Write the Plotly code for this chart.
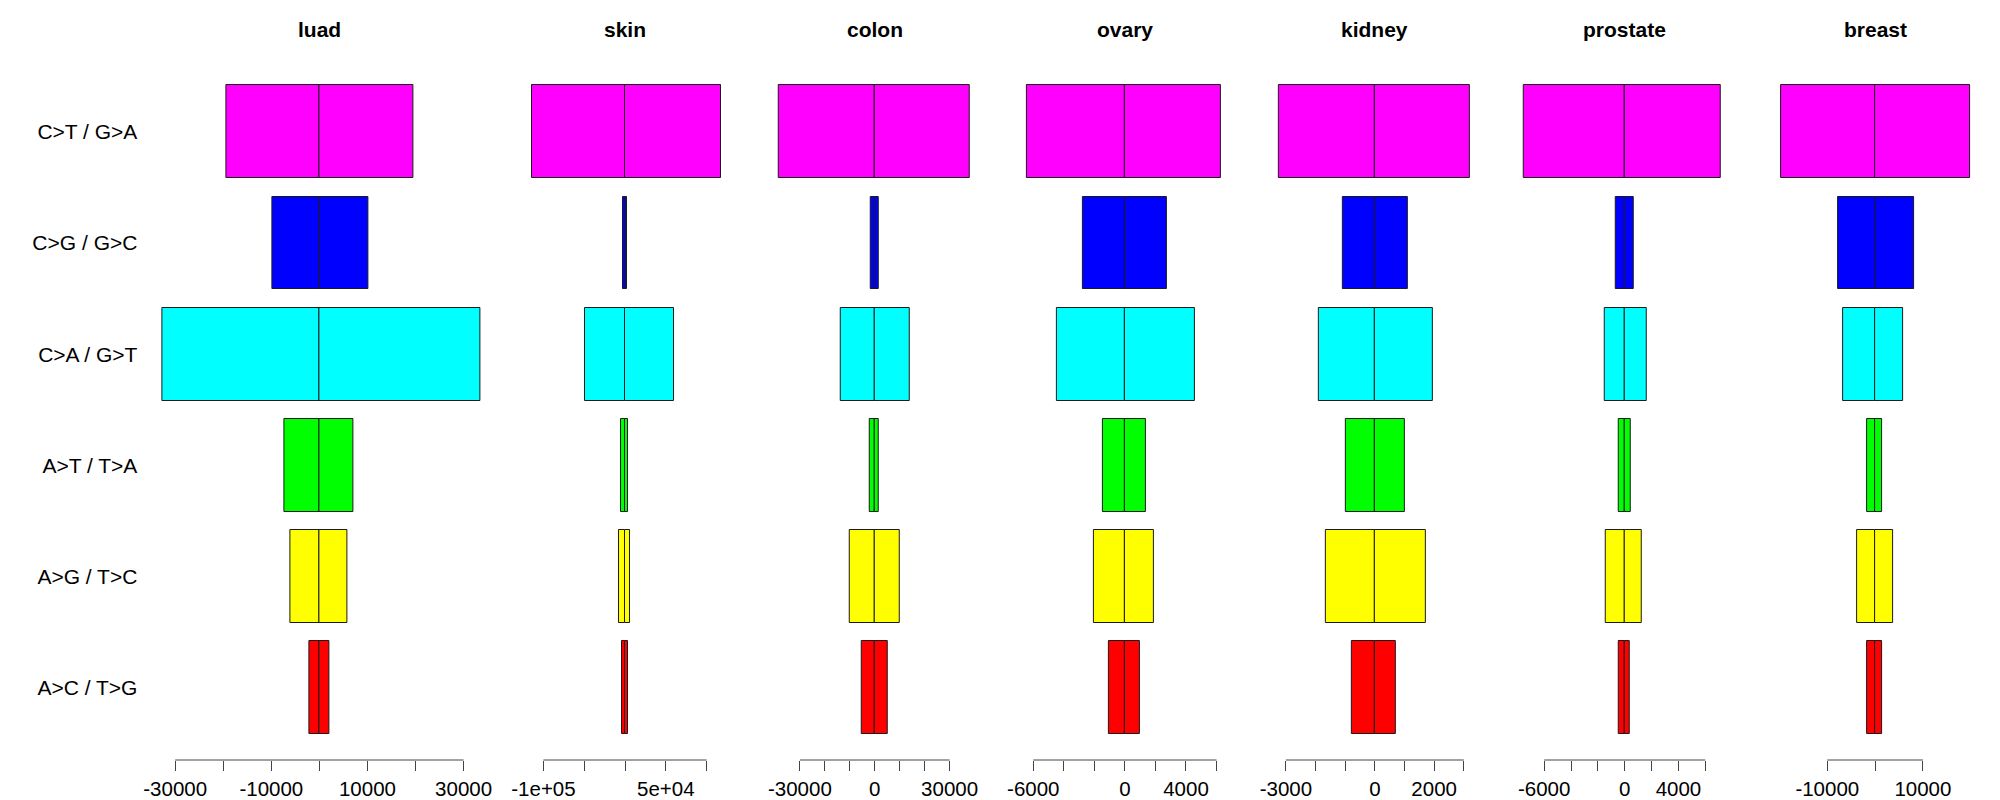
import plotly.graph_objects as go

# ---------------- data ----------------
cancers = ["luad", "skin", "colon", "ovary", "kidney", "prostate", "breast"]
mutation_types = ["C>T / G>A", "C>G / G>C", "C>A / G>T", "A>T / T>A", "A>G / T>C", "A>C / T>G"]
bar_colors = ["#FF00FF", "#0000FF", "#00FFFF", "#00FF00", "#FFFF00", "#FF0000"]

# left half of each bar (plotted as negative) and right half (positive)
luad_left = [19400, 9850, 32670, 7300, 6110, 2150]
luad_right = [19570, 10160, 33430, 7070, 5830, 1990]
skin_left = [114400, 2450, 48600, 4900, 6950, 3270]
skin_right = [117300, 2450, 59700, 4100, 6540, 3270]
colon_left = [38340, 1600, 13490, 2140, 10150, 5210]
colon_right = [38210, 1600, 14030, 1740, 10150, 5080]
ovary_left = [6397, 2751, 4432, 1419, 2009, 1026]
ovary_right = [6266, 2729, 4585, 1354, 1877, 982]
kidney_left = [3226, 1090, 1888, 967, 1652, 764]
kidney_right = [3215, 1113, 1945, 1023, 1709, 708]
prostate_left = [7499, 646, 1515, 472, 1390, 472]
prostate_right = [7126, 646, 1614, 422, 1291, 397]
breast_left = [19664, 7810, 6624, 1673, 3835, 1604]
breast_right = [19943, 8228, 5857, 1534, 3765, 1395]

lefts = [luad_left, skin_left, colon_left, ovary_left, kidney_left, prostate_left, breast_left]
rights = [luad_right, skin_right, colon_right, ovary_right, kidney_right, prostate_right, breast_right]

# x-axis ticks and labels (R drops overlapping labels)
luad_ticks = [-30000, -20000, -10000, 0, 10000, 20000, 30000]
luad_tick_labels = ["-30000", "", "-10000", "", "10000", "", "30000"]
skin_ticks = [-100000, -50000, 0, 50000, 100000]
skin_tick_labels = ["-1e+05", "", "", "5e+04", ""]
colon_ticks = [-30000, -20000, -10000, 0, 10000, 20000, 30000]
colon_tick_labels = ["-30000", "", "", "0", "", "", "30000"]
ovary_ticks = [-6000, -4000, -2000, 0, 2000, 4000, 6000]
ovary_tick_labels = ["-6000", "", "", "0", "", "4000", ""]
kidney_ticks = [-3000, -2000, -1000, 0, 1000, 2000, 3000]
kidney_tick_labels = ["-3000", "", "", "0", "", "2000", ""]
prostate_ticks = [-6000, -4000, -2000, 0, 2000, 4000, 6000]
prostate_tick_labels = ["-6000", "", "", "0", "", "4000", ""]
breast_ticks = [-10000, 0, 10000]
breast_tick_labels = ["-10000", "", "10000"]

all_ticks = [luad_ticks, skin_ticks, colon_ticks, ovary_ticks, kidney_ticks, prostate_ticks, breast_ticks]
all_tick_labels = [luad_tick_labels, skin_tick_labels, colon_tick_labels, ovary_tick_labels,
                   kidney_tick_labels, prostate_tick_labels, breast_tick_labels]

# ---------------- layout constants ----------------
W, H = 2000, 800
panel_center_px = [319.4, 625.0, 874.75, 1124.9, 1374.85, 1624.75, 1875.1]
panel_half_px = [175, 105, 105, 105, 105, 105, 105]
axis_half_range = [36408, 128755, 42084, 6877.5, 3541.3, 7821.2, 21966.5]
axis_line_px = 760          # distance from top of the x axis line
y_top_val = -1.1853          # row coordinate at the top edge
y_bottom_val = 5.6493        # row coordinate at the axis line

FONT = "Liberation Sans, Arial, Helvetica, sans-serif"
row_pos = list(range(len(mutation_types)))

fig = go.Figure()
for i, name in enumerate(cancers):
    xa = "x" if i == 0 else f"x{i+1}"
    fig.add_trace(go.Bar(
        y=row_pos, x=[-v for v in lefts[i]], orientation="h", xaxis=xa, yaxis="y",
        width=1 / 1.2, marker=dict(color=bar_colors, line=dict(color="#1a1a1a", width=1)),
        showlegend=False, name=name))
    fig.add_trace(go.Bar(
        y=row_pos, x=rights[i], orientation="h", xaxis=xa, yaxis="y",
        width=1 / 1.2, marker=dict(color=bar_colors, line=dict(color="#1a1a1a", width=1)),
        showlegend=False, name=name))

layout = dict(
    width=W, height=H, autosize=False,
    margin=dict(l=0, r=0, t=0, b=0, pad=0),
    paper_bgcolor="white", plot_bgcolor="white",
    barmode="relative", bargap=0,
    font=dict(family=FONT, size=20, color="black"),
    yaxis=dict(domain=[1 - axis_line_px / H, 1], range=[y_bottom_val, y_top_val],
               tickvals=row_pos, ticktext=mutation_types, ticks="", showline=False,
               showgrid=False, zeroline=False, anchor="x", ticklabelstandoff=6,
               automargin=False,
               tickfont=dict(family=FONT, size=21, color="black")),
)

shapes = []
annotations = []
for i, name in enumerate(cancers):
    key = "xaxis" if i == 0 else f"xaxis{i+1}"
    xref = "x" if i == 0 else f"x{i+1}"
    c, h = panel_center_px[i], panel_half_px[i]
    layout[key] = dict(
        domain=[(c - h) / W, (c + h) / W],
        range=[-axis_half_range[i], axis_half_range[i]],
        anchor="y", showgrid=False, zeroline=False, showline=False, automargin=False,
        tickmode="array", tickvals=all_ticks[i], ticktext=all_tick_labels[i],
        ticks="outside", ticklen=10, tickwidth=1, tickcolor="#444",
        tickfont=dict(family=FONT, size=20.5, color="black"),
    )
    shapes.append(dict(type="line", xref=xref, yref="paper",
                       x0=all_ticks[i][0], x1=all_ticks[i][-1],
                       y0=1 - axis_line_px / H, y1=1 - axis_line_px / H,
                       line=dict(color="#444", width=1)))
    annotations.append(dict(xref=xref, yref="paper", x=0, y=1 - 30 / H,
                            text=name, showarrow=False, xanchor="center", yanchor="middle",
                            font=dict(family=FONT, size=21, color="black", weight="bold")))

layout["shapes"] = shapes
layout["annotations"] = annotations
fig.update_layout(**layout)
fig.write_html("out.html")
